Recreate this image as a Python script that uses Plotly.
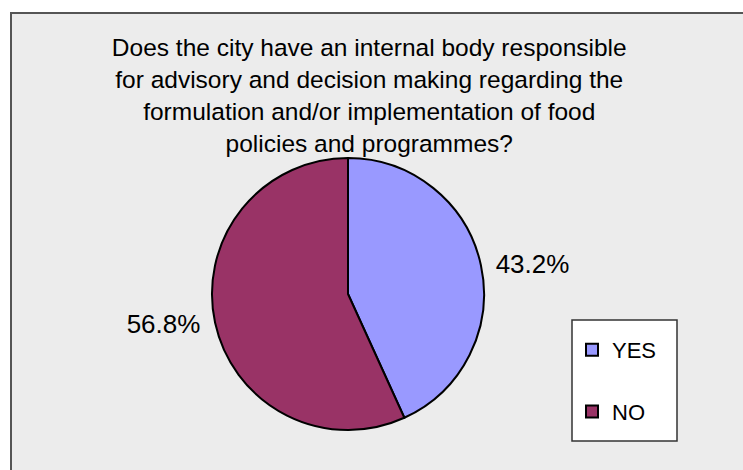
import plotly.graph_objects as go

categories = ["YES", "NO"]
values = [43.2, 56.8]
colors = ["#9999FF", "#993366"]
title_text = ("Does the city have an internal body responsible<br>"
              "for advisory and decision making regarding the<br>"
              "formulation and/or implementation of food<br>"
              "policies and programmes?")

W, H = 743, 470
cx, cy, r = 348, 294, 136
FONT = "Liberation Sans, Arial"

fig = go.Figure()
fig.add_trace(go.Pie(
    labels=categories, values=values, sort=False, direction="clockwise", rotation=0,
    marker=dict(colors=colors, line=dict(color="black", width=2)),
    textposition="outside", texttemplate="\u00a0%{percent:.1%}\u00a0",
    textfont=dict(family=FONT, size=26, color="black"),
    showlegend=False, hoverinfo="label+percent",
    domain=dict(x=[(cx - r) / W, (cx + r) / W], y=[(H - cy - r) / H, (H - cy + r) / H]),
))
for cat, col in zip(categories, colors):
    fig.add_trace(go.Scatter(
        x=[None], y=[None], mode="markers", name=cat, legendgroup=cat,
        marker=dict(symbol="square", size=11, color=col, line=dict(color="black", width=2)),
        showlegend=True,
    ))

fig.update_layout(
    width=W, height=H, margin=dict(l=0, r=0, t=0, b=0),
    paper_bgcolor="white", plot_bgcolor="rgba(0,0,0,0)",
    xaxis=dict(visible=False), yaxis=dict(visible=False),
    title=dict(text=title_text, x=0.497, xanchor="center", y=1 - 56 / H, yanchor="top",
               font=dict(family=FONT, size=24.5, color="black")),
    legend=dict(x=572 / W, y=1 - 329 / H, xanchor="left", yanchor="top",
                bgcolor="rgba(0,0,0,0)", borderwidth=0,
                font=dict(family=FONT, size=22, color="black"),
                traceorder="grouped", tracegroupgap=30, itemsizing="constant"),
    shapes=[
        dict(type="rect", xref="paper", yref="paper", layer="below",
             x0=11 / W, x1=1.02, y0=-0.05, y1=1 - 13 / H,
             fillcolor="#ECECEC", line=dict(color="#555", width=2)),
        dict(type="rect", xref="paper", yref="paper", layer="below",
             x0=572 / W, x1=677 / W, y0=1 - 441 / H, y1=1 - 320 / H,
             fillcolor="white", line=dict(color="#333", width=1.5)),
    ],
    font=dict(family=FONT),
)
fig.write_html("out.html")
